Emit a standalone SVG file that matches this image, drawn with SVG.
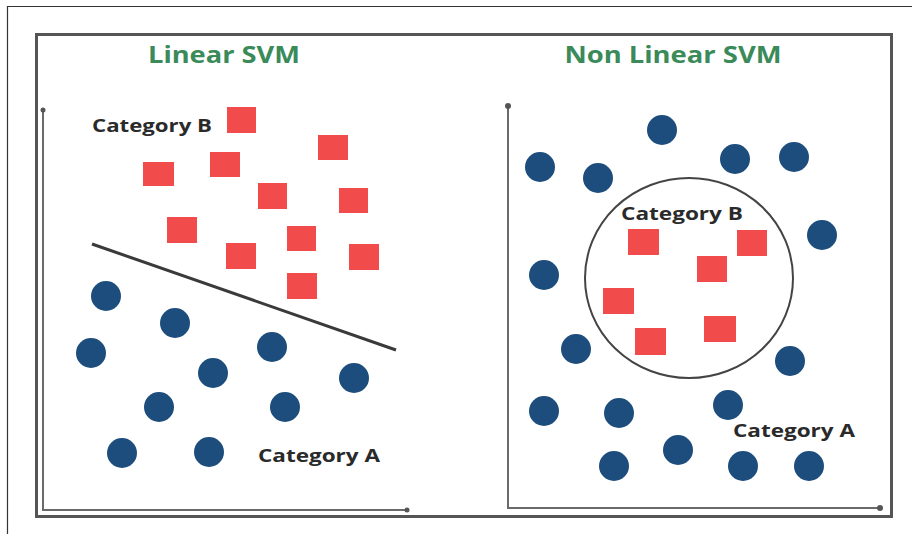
<svg xmlns="http://www.w3.org/2000/svg" width="912" height="534" viewBox="0 0 912 534">
<style>
.title{font-family:"Open Sans","Liberation Sans",sans-serif;font-weight:bold;font-size:24px;fill:#3a8a5a}
.lbl{font-family:"Open Sans","Liberation Sans",sans-serif;font-weight:bold;font-size:18px;fill:#2a2a2a}
.sq{fill:#f24b4b}
.dot{fill:#1c4d7c}
.axis{stroke:#6a6a6a;stroke-width:2;fill:none}
.tip{fill:#555}
</style>
<rect width="912" height="534" fill="#ffffff"/>
<g id="frame">
<path d="M7.5 534 V6.5 H912" stroke="#333" stroke-width="1.2" fill="none"/>
<rect x="36.5" y="34.5" width="855" height="482" fill="none" stroke="#555" stroke-width="3"/>
</g>
<g id="titles">
<text class="title" x="224" y="63" text-anchor="middle" textLength="152" lengthAdjust="spacingAndGlyphs">Linear SVM</text>
<text class="title" x="673" y="63" text-anchor="middle" textLength="217" lengthAdjust="spacingAndGlyphs">Non Linear SVM</text>
</g>
<g id="axes-left">
<path class="axis" d="M43 110 V510 H407"/>
<circle class="tip" cx="43" cy="110" r="2.5"/>
<circle class="tip" cx="407" cy="510" r="2.5"/>
</g>
<g id="axes-right">
<path class="axis" d="M508 106 V508 H880"/>
<circle class="tip" cx="508" cy="106" r="3"/>
<circle class="tip" cx="880" cy="508" r="3"/>
</g>
<g id="connectors">
<line id="hyperplane" x1="92" y1="244" x2="396" y2="350" stroke="#3a3a3a" stroke-width="3"/>
<ellipse id="boundary" cx="689" cy="278" rx="104" ry="100" fill="none" stroke="#444" stroke-width="2"/>
</g>
<g id="linear-category-b">
<text class="lbl" x="92" y="132" textLength="120" lengthAdjust="spacingAndGlyphs">Category B</text>
<rect class="sq" x="227" y="107" width="29" height="26"/>
<rect class="sq" x="318" y="135" width="30" height="25"/>
<rect class="sq" x="210" y="152" width="30" height="25"/>
<rect class="sq" x="143" y="162" width="31" height="24"/>
<rect class="sq" x="258" y="183" width="29" height="26"/>
<rect class="sq" x="339" y="188" width="29" height="25"/>
<rect class="sq" x="167" y="217" width="30" height="26"/>
<rect class="sq" x="287" y="226" width="29" height="25"/>
<rect class="sq" x="226" y="243" width="30" height="26"/>
<rect class="sq" x="349" y="244" width="30" height="26"/>
<rect class="sq" x="287" y="273" width="30" height="26"/>
</g>
<g id="linear-category-a">
<text class="lbl" x="258" y="462" textLength="122" lengthAdjust="spacingAndGlyphs">Category A</text>
<circle class="dot" cx="106" cy="296" r="15"/>
<circle class="dot" cx="175" cy="323" r="15"/>
<circle class="dot" cx="91" cy="353" r="15"/>
<circle class="dot" cx="272" cy="347" r="15"/>
<circle class="dot" cx="213" cy="373" r="15"/>
<circle class="dot" cx="354" cy="378" r="15"/>
<circle class="dot" cx="159" cy="407" r="15"/>
<circle class="dot" cx="285" cy="407" r="15"/>
<circle class="dot" cx="122" cy="453" r="15"/>
<circle class="dot" cx="209" cy="452" r="15"/>
</g>
<g id="nonlinear-category-b">
<text class="lbl" x="621" y="220" textLength="122" lengthAdjust="spacingAndGlyphs">Category B</text>
<rect class="sq" x="628" y="229" width="31" height="26"/>
<rect class="sq" x="737" y="230" width="30" height="26"/>
<rect class="sq" x="697" y="256" width="30" height="26"/>
<rect class="sq" x="603" y="288" width="31" height="26"/>
<rect class="sq" x="704" y="316" width="32" height="26"/>
<rect class="sq" x="635" y="328" width="31" height="27"/>
</g>
<g id="nonlinear-category-a">
<text class="lbl" x="733" y="437" textLength="122" lengthAdjust="spacingAndGlyphs">Category A</text>
<circle class="dot" cx="662" cy="130" r="15"/>
<circle class="dot" cx="540" cy="167" r="15"/>
<circle class="dot" cx="598" cy="178" r="15"/>
<circle class="dot" cx="735" cy="159" r="15"/>
<circle class="dot" cx="794" cy="157" r="15"/>
<circle class="dot" cx="822" cy="235" r="15"/>
<circle class="dot" cx="544" cy="275" r="15"/>
<circle class="dot" cx="576" cy="349" r="15"/>
<circle class="dot" cx="790" cy="361" r="15"/>
<circle class="dot" cx="544" cy="411" r="15"/>
<circle class="dot" cx="619" cy="413" r="15"/>
<circle class="dot" cx="728" cy="405" r="15"/>
<circle class="dot" cx="678" cy="450" r="15"/>
<circle class="dot" cx="614" cy="466" r="15"/>
<circle class="dot" cx="743" cy="466" r="15"/>
<circle class="dot" cx="809" cy="466" r="15"/>
</g>
</svg>
